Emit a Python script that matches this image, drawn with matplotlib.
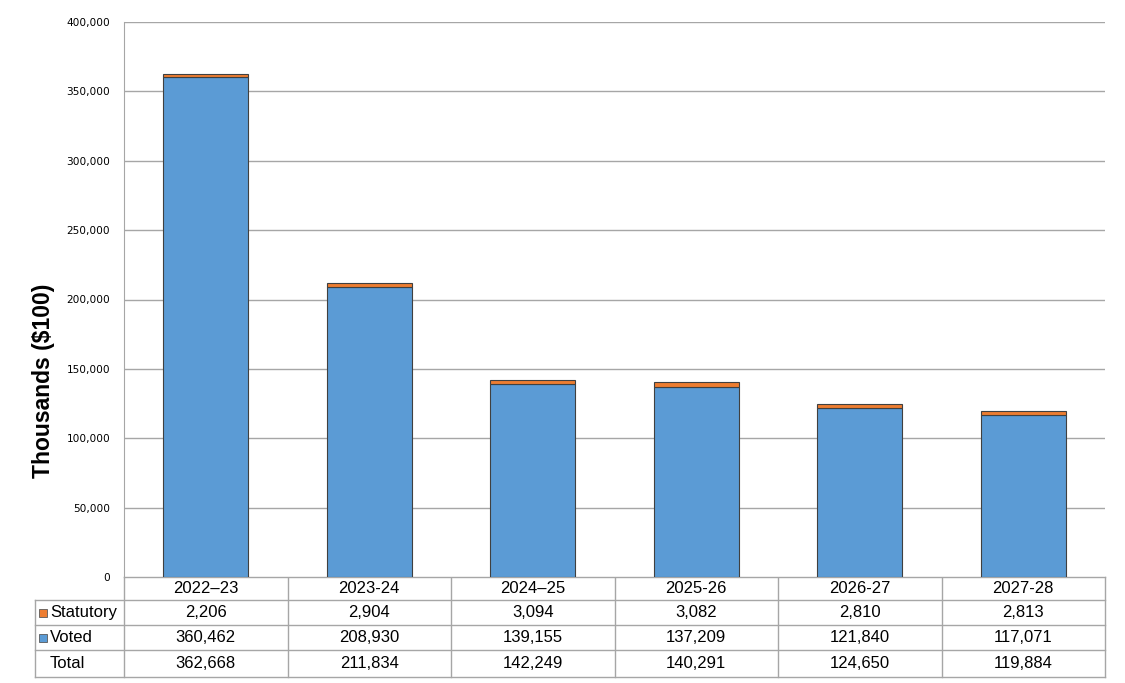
import numpy as np
import matplotlib.pyplot as plt
from matplotlib.ticker import FuncFormatter

years = ['2022–23', '2023-24', '2024–25', '2025-26', '2026-27', '2027-28']
statutory = [2206, 2904, 3094, 3082, 2810, 2813]
voted = [360462, 208930, 139155, 137209, 121840, 117071]
total = [362668, 211834, 142249, 140291, 124650, 119884]

blue = '#5B9BD5'
orange = '#ED7D31'
grid = '#A6A6A6'

W, H = 1125, 683
fig = plt.figure(figsize=(W / 100, H / 100), dpi=100)
ax = fig.add_axes([124 / W, 1 - 577 / H, (1105 - 124) / W, (577 - 22) / H])

x = np.arange(len(years))
ax.bar(x, voted, width=0.52, color=blue, edgecolor='#404040', linewidth=0.8, zorder=3)
ax.bar(x, statutory, width=0.52, bottom=voted, color=orange, edgecolor='#404040',
       linewidth=0.8, zorder=3)

ax.set_xlim(-0.5, len(years) - 0.5)
ax.set_ylim(0, 400000)
ax.set_yticks(np.arange(0, 400001, 50000))
ax.yaxis.set_major_formatter(FuncFormatter(lambda v, p: f'{int(v):,}'))
ax.tick_params(axis='y', labelsize=7.6, length=0, pad=10, colors='black')
ax.set_xticks([])
ax.grid(axis='y', color=grid, linewidth=1, zorder=0)
for s in ['top', 'right', 'bottom']:
    ax.spines[s].set_visible(False)
ax.spines['left'].set_color(grid)

# y axis title sits lower than the plot centre, as in the original
fig.text(44 / W, 1 - 381 / H, 'Thousands ($100)', rotation=90, ha='center',
         va='center', fontsize=16.5, fontweight='bold', family='Liberation Sans')

# data table below the plot
tab = fig.add_axes([0, 0, 1, 1], zorder=-1)
tab.set_xlim(0, W)
tab.set_ylim(H, 0)
tab.axis('off')

x0, x1 = 124, 1105
lx = 35
rows_y = [577, 600, 625, 650, 677]
colw = (x1 - x0) / len(years)
lc = '#A6A6A6'
# horizontal lines
tab.plot([x0, x1], [rows_y[0], rows_y[0]], color=lc, lw=1)
for yy in rows_y[1:]:
    tab.plot([lx, x1], [yy, yy], color=lc, lw=1)
# vertical lines
for i in range(len(years) + 1):
    xx = x0 + i * colw
    tab.plot([xx, xx], [rows_y[0], rows_y[-1]], color=lc, lw=1)
tab.plot([lx, lx], [rows_y[1], rows_y[-1]], color=lc, lw=1)

fs = 12
tf = 'Liberation Sans'
for i, yr in enumerate(years):
    cx = x0 + (i + 0.5) * colw
    tab.text(cx, (rows_y[0] + rows_y[1]) / 2, yr, ha='center', va='center',
             fontsize=fs, family=tf)
    for r, vals in enumerate([statutory, voted, total]):
        tab.text(cx, (rows_y[r + 1] + rows_y[r + 2]) / 2, f'{vals[i]:,}',
                 ha='center', va='center', fontsize=fs, family=tf)

labels = ['Statutory', 'Voted', 'Total']
keys = [orange, blue, None]
for r, (lab, col) in enumerate(zip(labels, keys)):
    cy = (rows_y[r + 1] + rows_y[r + 2]) / 2
    if col:
        tab.add_patch(plt.Rectangle((lx + 4, cy - 4), 8, 8, facecolor=col,
                                    edgecolor='#595959', lw=0.6))
    tab.text(lx + 15, cy, lab, ha='left', va='center', fontsize=fs, family=tf)

fig.savefig('out.png', dpi=100)
